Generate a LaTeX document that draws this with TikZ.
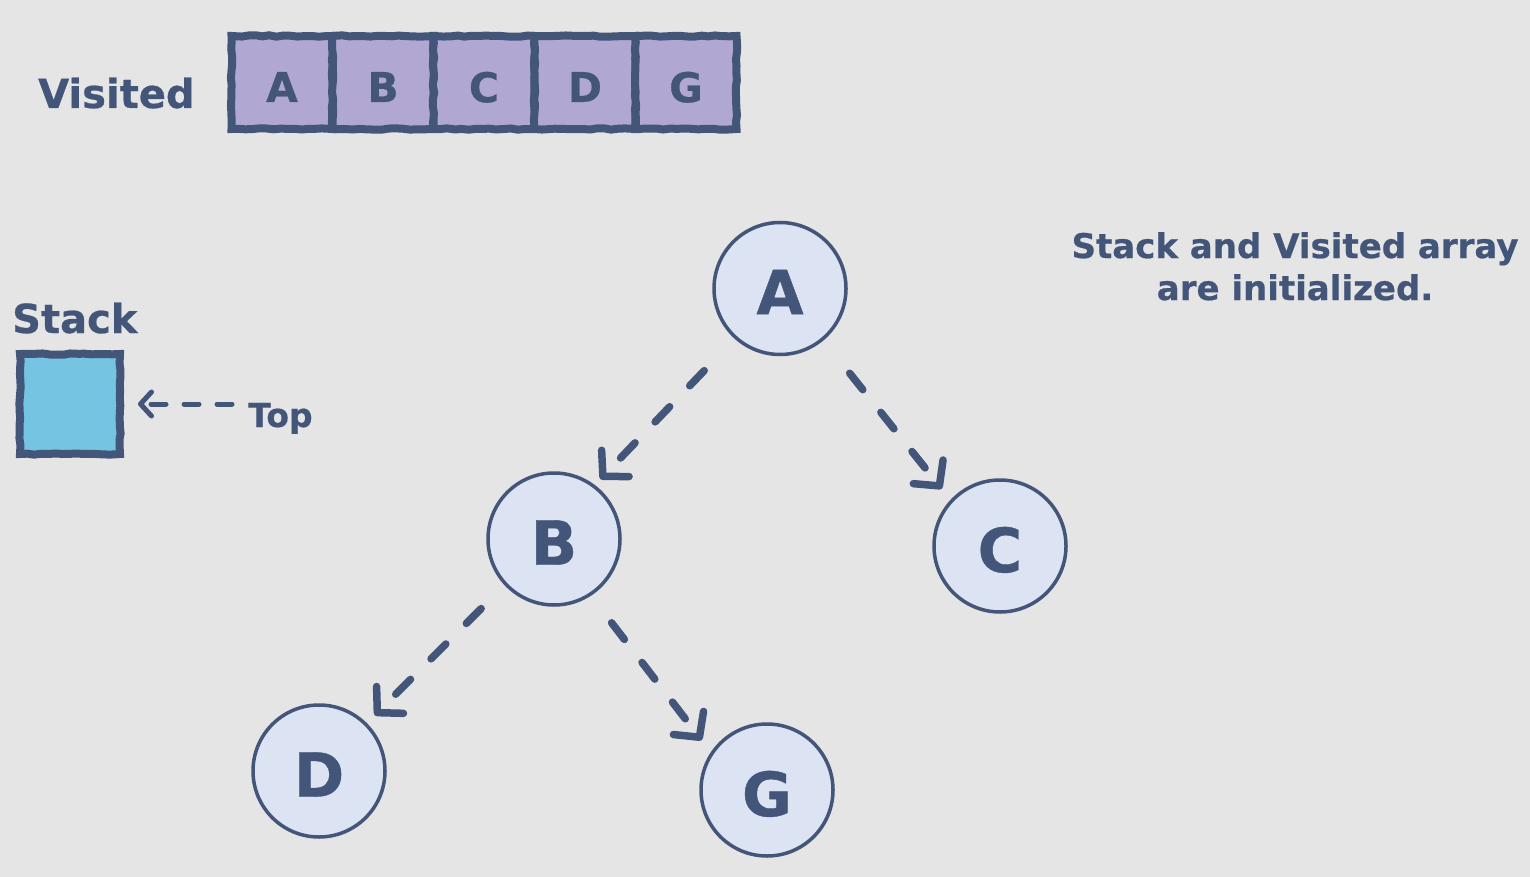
\documentclass[tikz,border=0pt]{standalone}
\usepackage{fontspec}
\setmainfont{DejaVu Sans}[BoldFeatures={FakeBold=0.6}]
\usetikzlibrary{arrows.meta,decorations.pathmorphing}
\definecolor{bg}{HTML}{E5E5E5}
\definecolor{ink}{HTML}{435679}
\definecolor{cellfill}{HTML}{B0A8D3}
\definecolor{stackfill}{HTML}{74C4E2}
\definecolor{nodefill}{HTML}{DCE3F3}
\newcommand{\fs}[2]{\fontsize{#1}{#2}\selectfont\bfseries}
% lower a letter without changing the size of its box
\newcommand{\low}[2]{\raisebox{-#1pt}[\height][0pt]{#2}}
\tikzset{
  rough/.style={decorate, decoration={random steps, segment length=7pt, amplitude=0.7pt}},
  cell/.style={draw=ink, fill=cellfill, line width=8pt, rough, minimum width=101pt,
    minimum height=93pt, inner sep=0pt, text=ink, font=\fs{41}{48}},
  stackbox/.style={draw=ink, fill=stackfill, line width=8pt, rough, minimum size=100pt, inner sep=0pt},
  vertex/.style={circle, draw=ink, fill=nodefill, line width=3.5pt, minimum size=132pt,
    inner sep=0pt, text=ink, font=\fs{61}{70}},
  txt/.style={text=ink, inner sep=0pt},
  edge/.style={draw=ink, line width=7.5pt, line cap=round, dash pattern=on 21pt off 29pt,
    -{Straight Barb[length=18pt, width=38pt, round]}},
  toparrow/.style={draw=ink, line width=5pt, line cap=round, dash pattern=on 15pt off 18pt,
    -{Straight Barb[length=11pt, width=24pt, round]}}
}
\begin{document}
\begin{tikzpicture}[x=1pt, y=-1pt]
  \pgfmathsetseed{7}
  \useasboundingbox (0,0) rectangle (1530,877);
  \fill[bg] (0,0) rectangle (1530,877);

  % visited array
  \node[txt, anchor=base west, font=\fs{40}{48}] (visited) at (38,108) {Visited};
  \node[cell] (v1) at (282,82.5) {\low{4.5}{A}};
  \node[cell] (v2) at (383,82.5) {\low{4.5}{B}};
  \node[cell] (v3) at (484,82.5) {\low{4.5}{C}};
  \node[cell] (v4) at (585,82.5) {\low{4.5}{D}};
  \node[cell] (v5) at (686,82.5) {\low{4.5}{G}};

  % stack
  \node[txt, anchor=base west, font=\fs{40}{48}] (stacklabel) at (12,333) {Stack};
  \node[stackbox] (stack) at (70,404) {};
  \node[txt, anchor=base west, font=\fs{33}{37}] (top) at (248,427) {Top};
  \draw[toparrow, shorten <=16pt, shorten >=14pt] (top.west |- stack.east) -- (stack.east);

  % note
  \node[txt, anchor=north, align=center, font=\fs{34}{42}] (note) at (1295,232)
    {Stack and Visited array\\are initialized.};

  % tree
  \node[vertex] (A) at (780,288.5) {\low{3.5}{A}};
  \node[vertex] (B) at (554,539) {\low{3.5}{B}};
  \node[vertex] (C) at (1000,546) {\low{3.5}{C}};
  \node[vertex] (D) at (319,771) {\low{3.5}{D}};
  \node[vertex] (G) at (767,790) {\low{3.5}{G}};

  \draw[edge, shorten <=44pt, shorten >=8pt]  (A.-132) -- (B.53);
  \draw[edge, shorten <=42pt, shorten >=14pt] (A.-50)  -- (C.137);
  \draw[edge, shorten <=33pt, shorten >=11pt] (B.-137) -- (D.45);
  \draw[edge, shorten <=34pt, shorten >=15pt] (B.-57)  -- (G.146);
\end{tikzpicture}
\end{document}
